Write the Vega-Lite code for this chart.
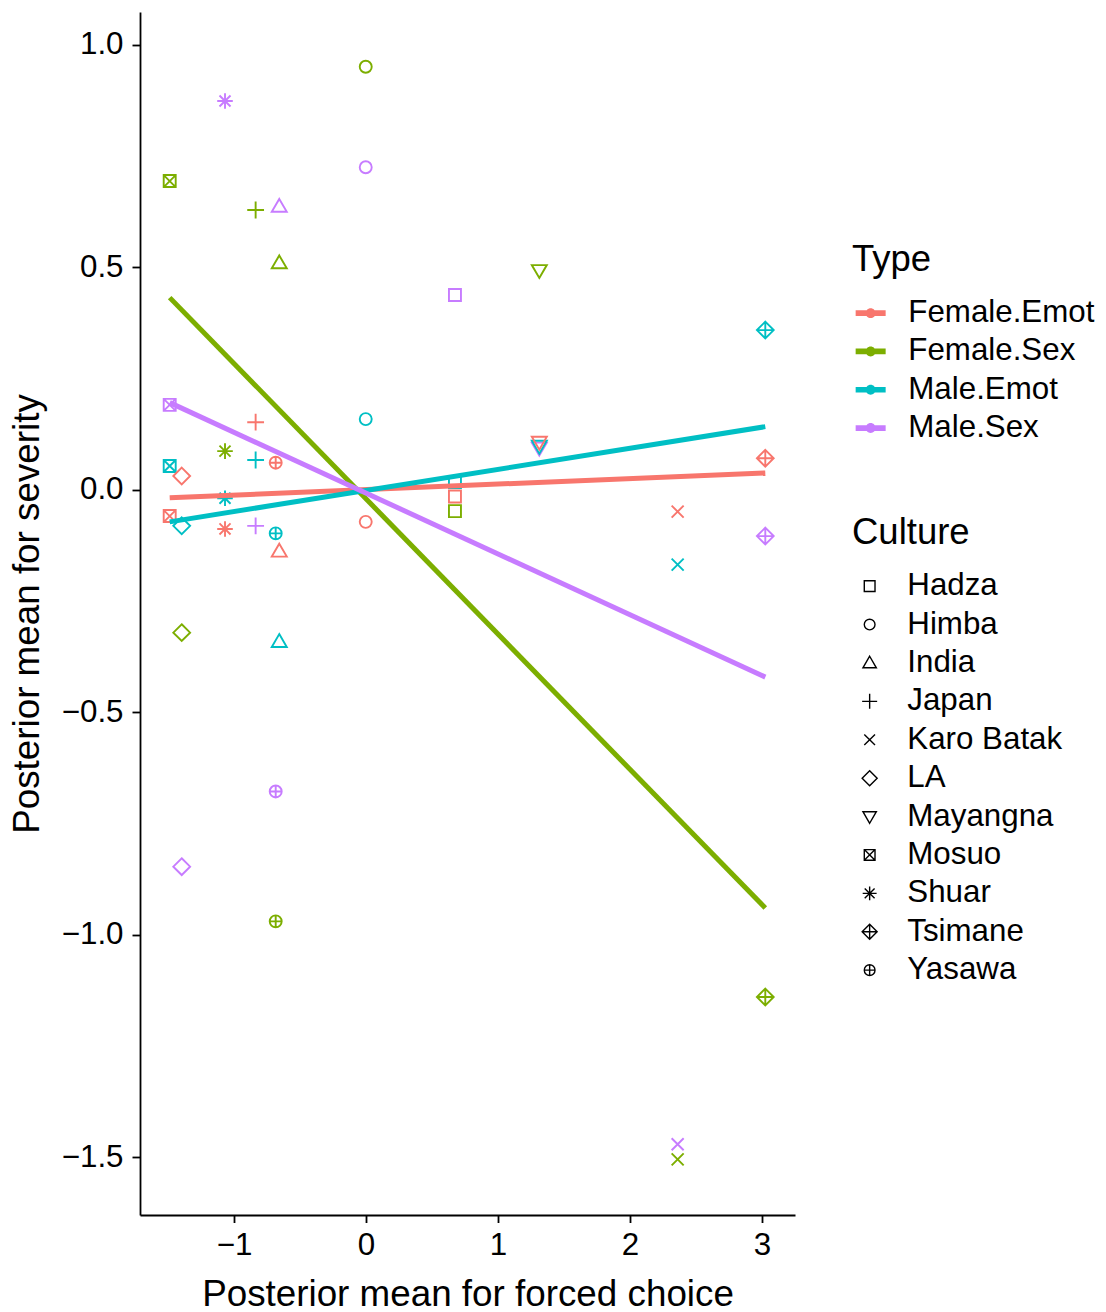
{
  "$schema": "https://vega.github.io/schema/vega-lite/v6.json",
  "width": 655,
  "height": 1203,
  "autosize": {"type": "none"},
  "padding": {"left": 140, "top": 12, "right": 311, "bottom": 97},
  "background": "white",
  "config": {
    "view": {"stroke": null},
    "font": "Liberation Sans",
    "axis": {
      "grid": false,
      "domainColor": "black",
      "domainWidth": 1.8,
      "tickColor": "black",
      "tickWidth": 1.8,
      "labelColor": "black",
      "labelFontSize": 31.3,
      "labelFont": "Liberation Sans",
      "titleFont": "Liberation Sans",
      "titleFontSize": 36.8,
      "titleFontWeight": "normal",
      "titleColor": "black",
      "labelFlush": false,
      "labelOverlap": false
    },
    "legend": {
      "labelFont": "Liberation Sans",
      "titleFont": "Liberation Sans",
      "labelFontSize": 31.3,
      "titleFontSize": 36.5,
      "titleFontWeight": "normal",
      "labelColor": "black",
      "titleColor": "black",
      "labelLimit": 400,
      "padding": 0
    }
  },
  "datasets": {
    "points": [
      {"culture": "Mosuo", "type": "Female.Sex", "fc": -1.487, "sev": 0.694},
      {"culture": "Mosuo", "type": "Male.Sex", "fc": -1.487, "sev": 0.191},
      {"culture": "Mosuo", "type": "Male.Emot", "fc": -1.487, "sev": 0.0535},
      {"culture": "Mosuo", "type": "Female.Emot", "fc": -1.487, "sev": -0.059},
      {"culture": "LA", "type": "Female.Emot", "fc": -1.396, "sev": 0.031},
      {"culture": "LA", "type": "Male.Emot", "fc": -1.396, "sev": -0.081},
      {"culture": "LA", "type": "Female.Sex", "fc": -1.396, "sev": -0.321},
      {"culture": "LA", "type": "Male.Sex", "fc": -1.396, "sev": -0.847},
      {"culture": "Shuar", "type": "Male.Sex", "fc": -1.068, "sev": 0.874},
      {"culture": "Shuar", "type": "Female.Sex", "fc": -1.068, "sev": 0.087},
      {"culture": "Shuar", "type": "Male.Emot", "fc": -1.068, "sev": -0.019},
      {"culture": "Shuar", "type": "Female.Emot", "fc": -1.068, "sev": -0.088},
      {"culture": "Japan", "type": "Female.Sex", "fc": -0.836, "sev": 0.629},
      {"culture": "Japan", "type": "Female.Emot", "fc": -0.836, "sev": 0.152},
      {"culture": "Japan", "type": "Male.Emot", "fc": -0.836, "sev": 0.067},
      {"culture": "Japan", "type": "Male.Sex", "fc": -0.836, "sev": -0.081},
      {"culture": "India", "type": "Male.Sex", "fc": -0.657, "sev": 0.637},
      {"culture": "India", "type": "Female.Sex", "fc": -0.657, "sev": 0.51},
      {"culture": "India", "type": "Female.Emot", "fc": -0.657, "sev": -0.138},
      {"culture": "India", "type": "Male.Emot", "fc": -0.657, "sev": -0.341},
      {"culture": "Yasawa", "type": "Female.Emot", "fc": -0.684, "sev": 0.061},
      {"culture": "Yasawa", "type": "Male.Emot", "fc": -0.684, "sev": -0.098},
      {"culture": "Yasawa", "type": "Male.Sex", "fc": -0.684, "sev": -0.678},
      {"culture": "Yasawa", "type": "Female.Sex", "fc": -0.684, "sev": -0.97},
      {"culture": "Himba", "type": "Female.Sex", "fc": -0.002, "sev": 0.951},
      {"culture": "Himba", "type": "Male.Sex", "fc": -0.002, "sev": 0.725},
      {"culture": "Himba", "type": "Male.Emot", "fc": -0.002, "sev": 0.159},
      {"culture": "Himba", "type": "Female.Emot", "fc": -0.002, "sev": -0.072},
      {"culture": "Hadza", "type": "Male.Sex", "fc": 0.674, "sev": 0.438},
      {"culture": "Hadza", "type": "Male.Emot", "fc": 0.674, "sev": 0.0175},
      {"culture": "Hadza", "type": "Female.Emot", "fc": 0.674, "sev": -0.015},
      {"culture": "Hadza", "type": "Female.Sex", "fc": 0.674, "sev": -0.048},
      {"culture": "Mayangna", "type": "Female.Sex", "fc": 1.313, "sev": 0.493},
      {"culture": "Mayangna", "type": "Male.Sex", "fc": 1.313, "sev": 0.094},
      {"culture": "Mayangna", "type": "Male.Emot", "fc": 1.313, "sev": 0.098},
      {"culture": "Mayangna", "type": "Female.Emot", "fc": 1.313, "sev": 0.107},
      {"culture": "Karo Batak", "type": "Female.Emot", "fc": 2.361, "sev": -0.049},
      {"culture": "Karo Batak", "type": "Male.Emot", "fc": 2.361, "sev": -0.168},
      {"culture": "Karo Batak", "type": "Male.Sex", "fc": 2.361, "sev": -1.471},
      {"culture": "Karo Batak", "type": "Female.Sex", "fc": 2.361, "sev": -1.505},
      {"culture": "Tsimane", "type": "Male.Emot", "fc": 3.025, "sev": 0.359},
      {"culture": "Tsimane", "type": "Female.Emot", "fc": 3.025, "sev": 0.071},
      {"culture": "Tsimane", "type": "Male.Sex", "fc": 3.025, "sev": -0.104},
      {"culture": "Tsimane", "type": "Female.Sex", "fc": 3.025, "sev": -1.14}
    ],
    "lines": [
      {"type": "Female.Emot", "fc": -1.487, "sev": -0.018},
      {"type": "Female.Emot", "fc": 3.025, "sev": 0.038},
      {"type": "Female.Sex", "fc": -1.487, "sev": 0.432},
      {"type": "Female.Sex", "fc": 3.025, "sev": -0.94},
      {"type": "Male.Emot", "fc": -1.487, "sev": -0.072},
      {"type": "Male.Emot", "fc": 3.025, "sev": 0.142},
      {"type": "Male.Sex", "fc": -1.487, "sev": 0.196},
      {"type": "Male.Sex", "fc": 3.025, "sev": -0.421}
    ]
  },
  "encoding": {
    "x": {
      "field": "fc",
      "type": "quantitative",
      "scale": {"domain": [-1.712, 3.25], "nice": false, "zero": false},
      "axis": {
        "title": "Posterior mean for forced choice",
        "values": [-1, 0, 1, 2, 3],
        "format": "d",
        "tickSize": 7.5,
        "labelPadding": 7,
        "titleBaseline": "alphabetic",
        "titleX": 327.5,
        "titleY": 90
      }
    },
    "y": {
      "field": "sev",
      "type": "quantitative",
      "scale": {"domain": [-1.63, 1.074], "nice": false, "zero": false},
      "axis": {
        "title": "Posterior mean for severity",
        "values": [1, 0.5, 0, -0.5, -1, -1.5],
        "format": ".1f",
        "tickSize": 8,
        "labelPadding": 9,
        "titleAngle": -90,
        "titleAlign": "center",
        "titleBaseline": "alphabetic",
        "titleX": -101.5,
        "titleY": 601.5
      }
    },
    "color": {
      "field": "type",
      "type": "nominal",
      "scale": {
        "domain": ["Female.Emot", "Female.Sex", "Male.Emot", "Male.Sex"],
        "range": ["#F8766D", "#7CAE00", "#00BFC4", "#C77CFF"]
      },
      "legend": {
        "title": "Type",
        "orient": "none",
        "legendX": 712,
        "legendY": 230,
        "symbolType": "M-1,-0.19H1V0.19H-1Z M-0.33,0A0.33,0.33,0,1,1,0.33,0A0.33,0.33,0,1,1,-0.33,0Z",
        "symbolSize": 900,
        "symbolStrokeWidth": 0,
        "symbolOffset": 3,
        "labelOffset": 22,
        "rowPadding": 6.3,
        "titlePadding": 19,
        "encode": {
          "symbols": {
            "update": {
              "fill": {"scale": "color", "field": "value"},
              "stroke": {"value": "transparent"},
              "opacity": {"value": 1}
            }
          }
        }
      }
    }
  },
  "layer": [
    {
      "data": {"name": "points"},
      "mark": {"type": "point", "filled": false, "strokeWidth": 1.9, "size": 144, "opacity": 1},
      "encoding": {
        "shape": {
          "field": "culture",
          "type": "nominal",
          "scale": {
            "domain": ["Hadza", "Himba", "India", "Japan", "Karo Batak", "LA", "Mayangna", "Mosuo", "Shuar", "Tsimane", "Yasawa"],
            "range": [
              "M-1,-1H1V1H-1Z",
              "circle",
              "M0,-1.25L1.25,0.9L-1.25,0.9Z",
              "M-1.4,0H1.4M0,-1.4V1.4",
              "M-1,-1L1,1M-1,1L1,-1",
              "M0,-1.4L1.4,0L0,1.4L-1.4,0Z",
              "M0,1.25L1.25,-0.9L-1.25,-0.9Z",
              "M-1,-1H1V1H-1ZM-1,-1L1,1M-1,1L1,-1",
              "M-1.3,0H1.3M0,-1.3V1.3M-0.92,-0.92L0.92,0.92M-0.92,0.92L0.92,-0.92",
              "M0,-1.4L1.4,0L0,1.4L-1.4,0ZM-1.4,0H1.4M0,-1.4V1.4",
              "M-1,0A1,1,0,1,1,1,0A1,1,0,1,1,-1,0ZM-1,0H1M0,-1V1"
            ]
          },
          "legend": {
            "title": "Culture",
            "orient": "none",
            "legendX": 712,
            "legendY": 503,
            "symbolSize": 115,
            "symbolStrokeWidth": 1.4,
            "symbolStrokeColor": "black",
            "symbolFillColor": "transparent",
            "symbolOffset": 2,
            "labelOffset": 22,
            "rowPadding": 6.4,
            "titlePadding": 19,
            "encode": {
              "symbols": {
                "update": {
                  "stroke": {"value": "black"},
                  "fill": {"value": "transparent"},
                  "opacity": {"value": 1}
                }
              }
            }
          }
        }
      }
    },
    {
      "data": {"name": "lines"},
      "mark": {"type": "line", "strokeWidth": 5},
      "encoding": {}
    }
  ]
}
